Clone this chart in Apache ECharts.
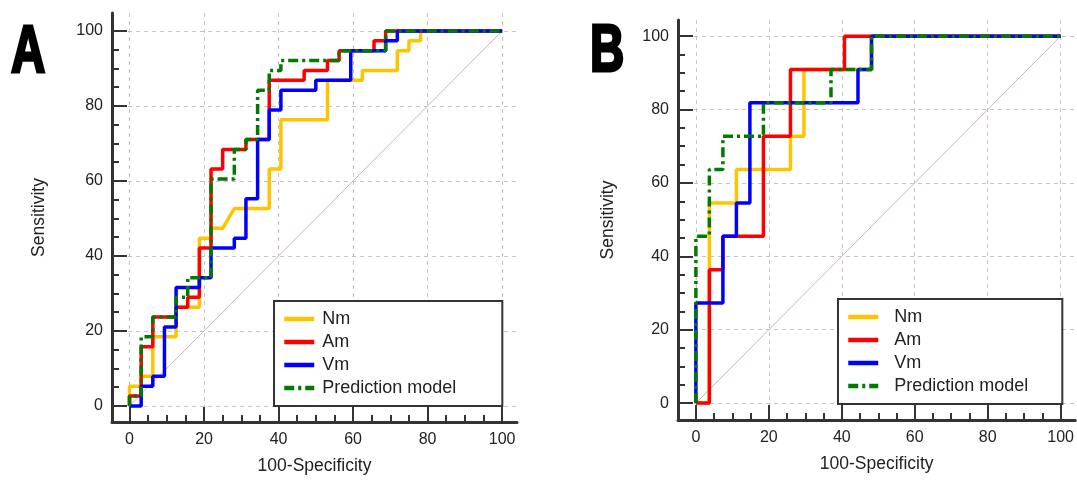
<!DOCTYPE html>
<html><head><meta charset="utf-8">
<script src="https://cdn.jsdelivr.net/npm/echarts@6/dist/echarts.min.js"></script>
<style>html,body{margin:0;padding:0;background:#fff}#c{width:1077px;height:482px}</style>
</head><body><div id="c"></div>
<script>
// ---- data ----
const seriesNames = ['Nm', 'Am', 'Vm', 'Prediction model'];
const majorTicks = [0, 20, 40, 60, 80, 100];
const minorTicks = [0, 5, 10, 15, 20, 25, 30, 35, 40, 45, 50, 55, 60, 65, 70, 75, 80, 85, 90, 95, 100];
const xTitle = '100-Specificity';
const yTitle = 'Sensitivity';
const panelLabels = ['A', 'B'];
const diagonal = [[0, 0], [100, 100]];

// Panel A ROC points [100-Specificity, Sensitivity]
const A_Nm = [[0,0],[0,5.26],[3.13,5.26],[3.13,7.89],[6.25,7.89],[6.25,18.42],[12.5,18.42],[12.5,26.32],[18.75,26.32],[18.75,44.74],[21.88,44.74],[21.88,47.37],[25,47.37],[28.13,52.63],[37.5,52.63],[37.5,63.16],[40.63,63.16],[40.63,76.32],[53.13,76.32],[53.13,86.84],[62.5,86.84],[62.5,89.47],[71.88,89.47],[71.88,94.74],[75,94.74],[75,97.37],[78.13,97.37],[78.13,100],[100,100]];
const A_Am = [[0,0],[0,2.63],[3.13,2.63],[3.13,15.79],[6.25,15.79],[6.25,23.68],[12.5,23.68],[12.5,26.32],[15.63,26.32],[15.63,28.95],[18.75,28.95],[18.75,42.11],[21.88,42.11],[21.88,63.16],[25,63.16],[25,68.42],[31.25,68.42],[31.25,71.05],[37.5,71.05],[37.5,86.84],[46.88,86.84],[46.88,89.47],[53.13,89.47],[53.13,92.11],[56.25,92.11],[56.25,94.74],[65.63,94.74],[65.63,97.37],[68.75,97.37],[68.75,100],[100,100]];
const A_Vm = [[0,0],[3.13,0],[3.13,5.26],[6.25,5.26],[6.25,7.89],[9.38,7.89],[9.38,21.05],[12.5,21.05],[12.5,31.58],[18.75,31.58],[18.75,34.21],[21.88,34.21],[21.88,42.11],[28.13,42.11],[28.13,44.74],[31.25,44.74],[31.25,55.26],[34.38,55.26],[34.38,71.05],[37.5,71.05],[37.5,78.95],[40.63,78.95],[40.63,84.21],[50,84.21],[50,86.84],[59.38,86.84],[59.38,94.74],[68.75,94.74],[68.75,97.37],[71.88,97.37],[71.88,100],[100,100]];
const A_Pred = [[0,0],[0,2.63],[3.13,2.63],[3.13,18.42],[6.25,18.42],[6.25,23.68],[12.5,23.68],[12.5,28.95],[15.63,28.95],[15.63,34.21],[21.88,34.21],[21.88,60.53],[28.13,60.53],[28.13,68.42],[31.25,68.42],[31.25,71.05],[34.38,71.05],[34.38,84.21],[37.5,84.21],[37.5,89.47],[40.63,89.47],[40.63,92.11],[56.25,92.11],[56.25,94.74],[68.75,94.74],[68.75,100],[100,100]];

// Panel B ROC points
const B_Nm = [[0,0],[3.7,0],[3.7,54.55],[11.11,54.55],[11.11,63.64],[25.93,63.64],[25.93,72.73],[29.63,72.73],[29.63,90.91],[48.15,90.91],[48.15,100],[100,100]];
const B_Am = [[0,0],[3.7,0],[3.7,36.36],[7.41,36.36],[7.41,45.45],[18.52,45.45],[18.52,72.73],[25.93,72.73],[25.93,90.91],[40.74,90.91],[40.74,100],[100,100]];
const B_Vm = [[0,0],[0,27.27],[7.41,27.27],[7.41,45.45],[11.11,45.45],[11.11,54.55],[14.81,54.55],[14.81,81.82],[44.44,81.82],[44.44,90.91],[48.15,90.91],[48.15,100],[100,100]];
const B_Pred = [[0,0],[0,45.45],[3.7,45.45],[3.7,63.64],[7.41,63.64],[7.41,72.73],[18.52,72.73],[18.52,81.82],[37.04,81.82],[37.04,90.91],[48.15,90.91],[48.15,100],[100,100]];

// ---- styling ----
const colors = ['#ffc400', '#ff0000', '#0000ff', '#007a00'];
const dashTypes = ['solid', 'solid', 'solid', [10, 4, 3, 4]];
const FONT = 'Liberation Sans, Arial, sans-serif';
const AXIS_COLOR = '#333';
const CLEAR = 'rgba(0,0,0,0)';

const panels = [
  { grid: { left: 112, top: 13, width: 405, height: 409 }, x: [-4.7, 104], y: [-4.3, 104.8],
    data: [A_Nm, A_Am, A_Vm, A_Pred], legend: { left: 274, top: 301, textPad: 3, padR: 46 }, label: { x: 11, y: 54 }, yGap: 64 },
  { grid: { left: 678, top: 20, width: 399, height: 400 }, x: [-4.9, 104], y: [-4.6, 104.4],
    data: [B_Nm, B_Am, B_Vm, B_Pred], legend: { left: 838, top: 299, textPad: 11, padR: 34 }, label: { x: 590, y: 53 }, yGap: 61 }
];

function mainAxis(gi, range, isY, p) {
  return {
    type: 'value', gridIndex: gi, min: range[0], max: range[1],
    position: isY ? 'left' : 'bottom',
    name: isY ? yTitle : xTitle, nameLocation: 'middle', nameGap: isY ? p.yGap : 35,
    nameTextStyle: { fontSize: 17.5, color: '#222', fontFamily: FONT },
    axisLine: { show: true, onZero: false, lineStyle: { color: AXIS_COLOR, width: 3 } },
    axisTick: { show: true, inside: true, length: 7, customValues: minorTicks, lineStyle: { color: AXIS_COLOR, width: 2 } },
    axisLabel: { show: true, customValues: majorTicks, margin: isY ? 9 : 10, fontSize: 16, color: '#222', fontFamily: FONT },
    splitLine: { show: false }
  };
}
function overlayAxis(gi, range, isY) {
  return {
    type: 'value', gridIndex: gi, min: range[0], max: range[1],
    position: isY ? 'left' : 'bottom', offset: 0,
    axisLine: { show: false, onZero: false },
    axisTick: { show: true, inside: true, length: 15, customValues: majorTicks, lineStyle: { color: AXIS_COLOR, width: 2 } },
    axisLabel: { show: false },
    splitLine: { show: true, lineStyle: { color: '#c4c4c4', width: 1, type: [4, 4] } }
  };
}

const grid = [], xAxis = [], yAxis = [], series = [], legend = [], graphic = [];
panels.forEach((p, gi) => {
  grid.push(Object.assign({ containLabel: false }, p.grid));
  const xi = xAxis.length, yi = yAxis.length;
  xAxis.push(mainAxis(gi, p.x, false, p), overlayAxis(gi, p.x, false));
  yAxis.push(mainAxis(gi, p.y, true, p), overlayAxis(gi, p.y, true));
  series.push({
    type: 'line', name: 'reference', xAxisIndex: xi, yAxisIndex: yi, data: diagonal,
    symbol: 'none', silent: true, lineStyle: { color: '#d6b3b3', width: 1 }, z: 1
  });
  p.data.forEach((d, k) => {
    series.push({
      type: 'line', name: seriesNames[k], xAxisIndex: xi, yAxisIndex: yi, data: d,
      symbol: 'none', color: colors[k],
      lineStyle: { color: colors[k], width: 3.5, type: dashTypes[k] }, z: 2 + k
    });
  });
  legend.push({
    data: seriesNames, orient: 'vertical', left: p.legend.left, top: p.legend.top,
    itemWidth: 30, itemHeight: 14, itemGap: 5,
    textStyle: { fontSize: 18, color: '#222', fontFamily: FONT, lineHeight: 18, padding: [0, 0, 0, p.legend.textPad] },
    lineStyle: { width: 4.5 },
    itemStyle: { color: CLEAR, borderColor: CLEAR, borderWidth: 0 },
    borderColor: AXIS_COLOR, borderWidth: 2, borderRadius: 0, backgroundColor: '#fff',
    padding: [9, p.legend.padR, 9, 8], selectedMode: false
  });
  graphic.push({
    type: 'text', x: p.label.x, y: p.label.y, scaleX: 0.72,
    style: { text: panelLabels[gi], font: 'bold 66px ' + FONT, fill: '#000', stroke: '#000', lineWidth: 3,
             align: 'left', verticalAlign: 'middle' }
  });
});

const chart = echarts.init(document.getElementById('c'), null, { renderer: 'canvas' });
chart.setOption({
  animation: false, backgroundColor: '#fff',
  textStyle: { fontFamily: FONT },
  grid, xAxis, yAxis, series, legend, graphic
});
</script></body></html>
